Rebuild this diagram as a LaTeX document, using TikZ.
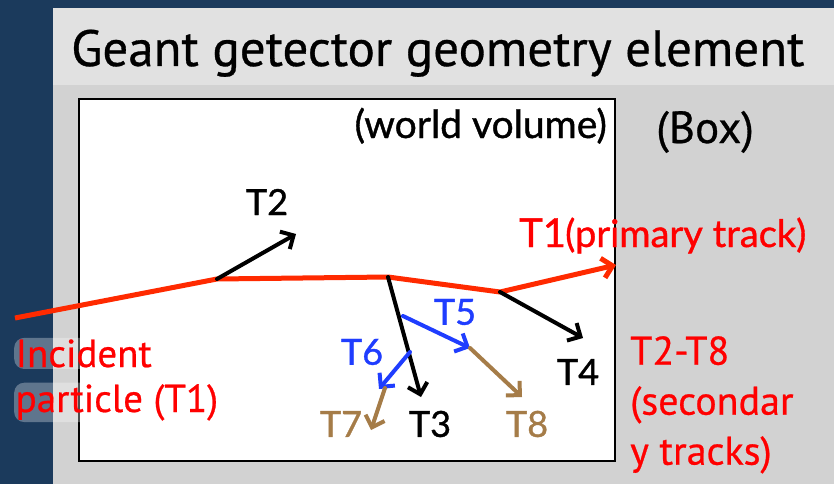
\documentclass[tikz,border=0pt]{standalone}
\usepackage{fontspec}
\setmainfont{PT Sans}[FakeBold=0.6]
\newfontfamily\gillfont{Lato}[FakeBold=1]
\usetikzlibrary{positioning,arrows.meta}

\definecolor{slidenavy}{HTML}{1B3A5C}
\definecolor{titlegray}{HTML}{E1E1E1}
\definecolor{bodygray}{HTML}{D2D2D2}
\definecolor{trackred}{HTML}{FF2A00}
\definecolor{labelred}{HTML}{FF0000}
\definecolor{trackblue}{HTML}{1F3DFF}
\definecolor{trackbrown}{HTML}{A57C48}

\begin{document}
\begin{tikzpicture}[x=1pt, y=-1pt,
    track/.style={line width=4pt, line cap=round, -{Straight Barb[length=10pt, width=20pt]}},
    tlabel/.style={inner sep=0pt, font=\gillfont\fontsize{36}{40}\selectfont},
    slabel/.style={inner sep=0pt, align=left, anchor=north west, text=labelred, font=\fontsize{40}{50}\selectfont},
    glow/.style={inner sep=1.5pt, anchor=base west, rounded corners=10pt, fill=white, fill opacity=0.3, text opacity=1}]

  \useasboundingbox (0,0) rectangle (834,484);

  % slide background
  \fill[slidenavy] (0,0) rectangle (834,484);
  \fill[titlegray] (53,8) rectangle (834,85);
  \fill[bodygray] (53,85) rectangle (834,484);
  \node[anchor=base west, inner sep=0pt, font=\fontsize{51}{54}\selectfont] (title) at (71,66) {Geant getector geometry element};

  % world volume
  \draw[line width=2pt, fill=white] (79,99) rectangle (615,461);
  \node[tlabel, anchor=base east, font=\gillfont\fontsize{39}{42}\selectfont] (world) at (607,138) {(world volume)};
  \node[anchor=base west, inner sep=0pt, font=\fontsize{45}{48}\selectfont] (box) at (656,143) {(Box)};

  % track vertices
  \coordinate (in) at (15,318);
  \coordinate (v1) at (217,279);
  \coordinate (v2) at (388,277);
  \coordinate (v3) at (500,292);
  \coordinate (out) at (616,265);
  \coordinate (v5) at (403,316);
  \coordinate (v6) at (410,352);
  \coordinate (e2) at (296,234);
  \coordinate (e3) at (421,397);
  \coordinate (e4) at (583,338);
  \coordinate (e5) at (470,348);
  \coordinate (e6) at (379,389);
  \coordinate (e7) at (371,430);
  \coordinate (e8) at (522,397);

  % primary track
  \draw[track, trackred, line width=5pt, line cap=butt, line join=round] (in) -- (v1) -- (v2) -- (v3) -- (out);

  % secondary tracks
  \draw[track] (v1) -- (e2);
  \draw[track] (v2) -- (e3);
  \draw[track] (v3) -- (e4);
  \draw[track, trackblue] (v5) -- (e5);
  \draw[track, trackblue] (v6) -- (e6);
  \draw[track, trackbrown] (e5) -- (e8);
  \draw[track, trackbrown] (385,388) -- (e7);

  \node[tlabel] (T2) at (267,202) {T2};
  \node[tlabel] (T3) at (430,424) {T3};
  \node[tlabel] (T4) at (578,372) {T4};
  \node[tlabel, text=trackblue] (T5) at (455,312) {T5};
  \node[tlabel, text=trackblue] (T6) at (362,352) {T6};
  \node[tlabel, text=trackbrown] (T7) at (341,424) {T7};
  \node[tlabel, text=trackbrown] (T8) at (527,424) {T8};

  \node[tlabel, anchor=base west, text=labelred, font=\gillfont\fontsize{40}{44}\selectfont] (T1) at (519,247) {T1};
  \node[tlabel, anchor=base west, text=labelred, font=\gillfont\fontsize{38}{42}\selectfont] (primary) at (565,247) {(primary track)};

  % side notes
  \node[glow, text=labelred, font=\fontsize{39}{46}\selectfont] (incident) at (14,367) {Incident};
  \node[glow, text=labelred, font=\fontsize{39}{46}\selectfont] (particle) at (14,412) {particle (T1)};
  \node[slabel] (secondary) at (630,336) {T2-T8\\(secondar\\y tracks)};
\end{tikzpicture}
\end{document}
